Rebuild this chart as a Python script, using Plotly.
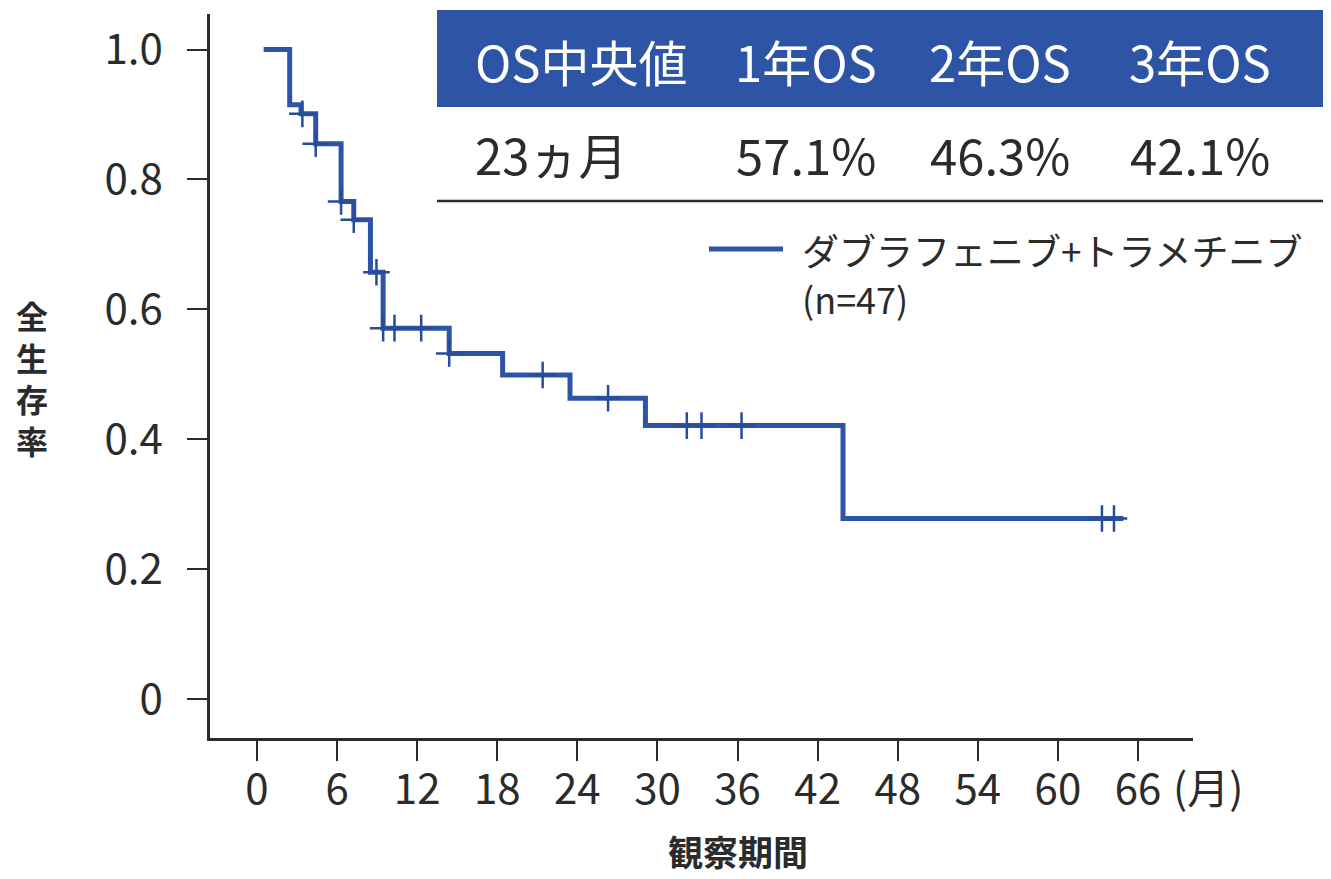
import plotly.graph_objects as go

# ---- data ----
step_times = [0.5, 2.45, 3.3, 4.4, 6.3, 7.25, 8.5, 9.45, 14.4, 18.4, 23.45, 29.1, 43.9]
step_surv = [1.0, 0.915, 0.901, 0.855, 0.766, 0.738, 0.657, 0.571, 0.532, 0.499, 0.463, 0.421, 0.278]
end_time = 64.9
censor_times = [3.4, 4.4, 6.3, 7.25, 8.95, 9.45, 10.3, 12.3, 14.4, 21.4, 26.3, 32.2, 33.3, 36.3, 63.3, 64.2]

x_ticks = [0, 6, 12, 18, 24, 30, 36, 42, 48, 54, 60, 66]
y_ticks = [0, 0.2, 0.4, 0.6, 0.8, 1.0]
y_ticktext = ["0", "0.2", "0.4", "0.6", "0.8", "1.0"]

table_header = ["OS中央値", "1年OS", "2年OS", "3年OS"]
table_values = ["23ヵ月", "57.1%", "46.3%", "42.1%"]
series_name = "ダブラフェニブ+トラメチニブ"
series_n = "(n=47)"

BLUE = "#2e55a5"
DARK = "#2b2b2b"
FONT = "Noto Sans CJK JP"

# ---- curve ----
line_x = step_times + [end_time]
line_y = step_surv + [step_surv[-1]]


def surv_at(t):
    s = step_surv[0]
    for tt, ss in zip(step_times, step_surv):
        if tt <= t:
            s = ss
    return s


cens_y = [surv_at(t) for t in censor_times]

fig = go.Figure()
fig.add_trace(go.Scatter(x=line_x, y=line_y, mode="lines", line=dict(color=BLUE, width=5, shape="hv"),
                         showlegend=False, hoverinfo="skip"))
fig.add_trace(go.Scatter(x=censor_times, y=cens_y, mode="markers",
                         marker=dict(symbol="cross-thin", size=19, line=dict(color="#284c97", width=2.5)),
                         showlegend=False, hoverinfo="skip"))

# ---- layout geometry (screen pixels; page body has an 8px margin) ----
OFF = 8
L, R, T, B = 210, 1193, 14, 738
W, H = 1331 - OFF, 879 - OFF


def px(x):
    return (x - L) / (R - L)


def py(y):
    return (B - y) / (B - T)


shapes = []
annotations = []

# table header band
shapes.append(dict(type="rect", xref="paper", yref="paper", x0=px(437), x1=px(1335), y0=py(107), y1=py(10),
                   fillcolor=BLUE, line=dict(width=0), layer="above"))
# row separator line
shapes.append(dict(type="line", xref="paper", yref="paper", x0=px(437), x1=px(1335), y0=py(201), y1=py(201),
                   line=dict(color=DARK, width=2.5)))
# legend line
shapes.append(dict(type="line", xref="paper", yref="paper", x0=px(709), x1=px(783), y0=py(249), y1=py(249),
                   line=dict(color=BLUE, width=5)))

col_x = [473, 806, 1000, 1200]
for i, (h, v) in enumerate(zip(table_header, table_values)):
    anchor = "left" if i == 0 else "center"
    annotations.append(dict(x=px(col_x[i]), y=py(60), xref="paper", yref="paper", text=h, showarrow=False,
                            xanchor=anchor, yanchor="middle", font=dict(family=FONT, size=49, color="white")))
    annotations.append(dict(x=px(col_x[i]), y=py(153), xref="paper", yref="paper", text=v, showarrow=False,
                            xanchor=anchor, yanchor="middle", font=dict(family=FONT, size=49, color=DARK)))

# legend text (two lines)
annotations.append(dict(x=px(800), y=py(250), xref="paper", yref="paper", text=series_name,
                        showarrow=False, xanchor="left", yanchor="middle", align="left",
                        font=dict(family=FONT, size=37, color=DARK)))
annotations.append(dict(x=px(800), y=py(298), xref="paper", yref="paper", text=series_n,
                        showarrow=False, xanchor="left", yanchor="middle", align="left",
                        font=dict(family=FONT, size=36, color=DARK)))

# y-axis title: stacked characters
annotations.append(dict(x=px(32), y=py(377), xref="paper", yref="paper",
                        text="<b>" + "<br>".join("全生存率") + "</b>",
                        showarrow=False, xanchor="center", yanchor="middle", align="center",
                        font=dict(family=FONT, size=32, color=DARK)))

# x-axis title and unit
annotations.append(dict(x=px(738), y=py(850), xref="paper", yref="paper", text="<b>観察期間</b>", showarrow=False,
                        xanchor="center", yanchor="middle", font=dict(family=FONT, size=35, color=DARK)))
annotations.append(dict(x=px(1208), y=py(785), xref="paper", yref="paper", text="(月)", showarrow=False,
                        xanchor="center", yanchor="middle", font=dict(family=FONT, size=42, color=DARK)))

fig.update_layout(
    width=W, height=H,
    margin=dict(l=L - OFF, r=(W + OFF) - R, t=T - OFF, b=(H + OFF) - B, autoexpand=False),
    paper_bgcolor="white", plot_bgcolor="white",
    shapes=shapes, annotations=annotations,
    font=dict(family=FONT, color=DARK),
    xaxis=dict(range=[-3.52, 70.12], tickvals=x_ticks, ticks="outside", ticklen=20, tickwidth=2,
               tickcolor=DARK, showline=True, linecolor=DARK, linewidth=2.5, showgrid=False, zeroline=False,
               tickfont=dict(family=FONT, size=42, color=DARK), ticklabelstandoff=-7),
    yaxis=dict(range=[-0.060, 1.0547], tickvals=y_ticks, ticktext=y_ticktext, ticks="outside", ticklen=20,
               tickwidth=2, tickcolor=DARK, showline=True, linecolor=DARK, linewidth=2.5, showgrid=False,
               zeroline=False, tickfont=dict(family=FONT, size=42, color=DARK), ticklabelstandoff=16),
)

fig.write_html("out.html")
